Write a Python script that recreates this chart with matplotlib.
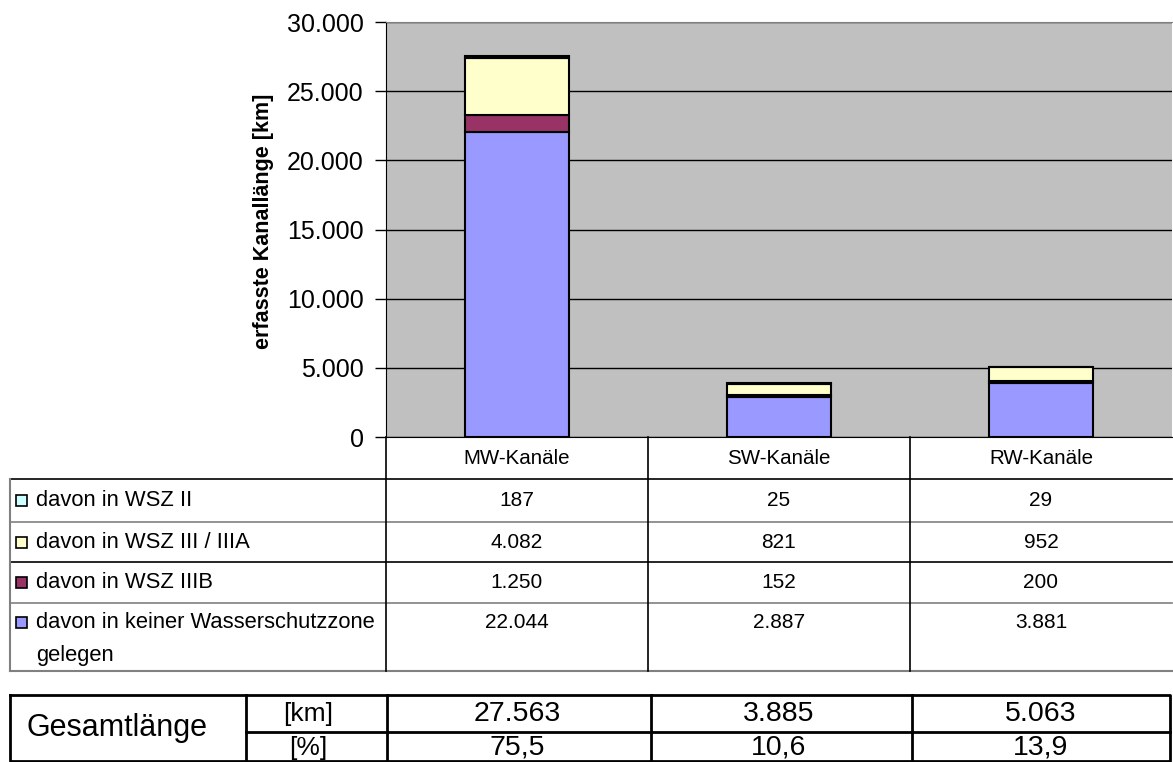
import matplotlib
matplotlib.use("Agg")
import matplotlib.pyplot as plt
from matplotlib.patches import Rectangle
from matplotlib.transforms import blended_transform_factory

plt.rcParams['font.family'] = ['Liberation Sans', 'DejaVu Sans']

# ---- data ----
categories = ["MW-Kanäle", "SW-Kanäle", "RW-Kanäle"]
series_labels = ["davon in keiner Wasserschutzzone\ngelegen", "davon in WSZ IIIB",
                 "davon in WSZ III / IIIA", "davon in WSZ II"]
keiner = [22044, 2887, 3881]
wsz_iiib = [1250, 152, 200]
wsz_iii_iiia = [4082, 821, 952]
wsz_ii = [187, 25, 29]
series_colors = ["#9999FF", "#993366", "#FFFFCC", "#CCFFFF"]
total_km = ["27.563", "3.885", "5.063"]
total_pct = ["75,5", "10,6", "13,9"]
yticks = [0, 5000, 10000, 15000, 20000, 25000, 30000]
ytick_labels = ["0", "5.000", "10.000", "15.000", "20.000", "25.000", "30.000"]
ylabel = "erfasste Kanallänge [km]"
total_label = "Gesamtlänge"
unit_labels = ["[km]", "[%]"]

series = [keiner, wsz_iiib, wsz_iii_iiia, wsz_ii]

def fmt(v):
    return f"{v:,}".replace(",", ".")

W, H = 1173, 762
fig = plt.figure(figsize=(W / 100, H / 100), dpi=100)

# main axes in pixel positions
L, R, T, B = 386, 1172, 22, 437
ax = fig.add_axes([L / W, 1 - B / H, (R - L) / W, (B - T) / H])
ax.set_facecolor("#C0C0C0")
ax.set_xlim(-0.5, 2.5)
ax.set_ylim(0, 30000)

x = list(range(len(categories)))
bottom = [0, 0, 0]
for vals, col in zip(series, series_colors):
    ax.bar(x, vals, width=0.4, bottom=bottom, color=col, edgecolor="black",
           linewidth=1.5, zorder=3)
    bottom = [b + v for b, v in zip(bottom, vals)]

ax.set_yticks(yticks)
ax.set_yticklabels(ytick_labels, fontsize=18)
ax.set_xticks([])
ax.yaxis.grid(True, color="black", linewidth=1)
ax.set_axisbelow(True)
ax.tick_params(axis="y", length=8, width=1, pad=8, color="black")
ax.spines["right"].set_visible(False)
ax.spines["top"].set_color("#808080")
ax.spines["left"].set_color("black")
ax.spines["bottom"].set_color("black")
ax.set_ylabel(ylabel, fontsize=15.5, fontweight="bold")
ax.yaxis.set_label_coords(-0.143, 0.52)

# overlay for table
ov = fig.add_axes([0, 0, 1, 1], zorder=5)
ov.set_xlim(0, W)
ov.set_ylim(H, 0)
ov.axis("off")
ov.patch.set_alpha(0)
tr = blended_transform_factory(ax.transData, ov.transData)

blk, gry = "black", "#808080"
# data table grid
ov.plot([10, 1172], [479, 479], color=blk, lw=1.2)
ov.plot([10, 1172], [522, 522], color=gry, lw=1.2)
ov.plot([10, 1172], [562, 562], color=blk, lw=1.2)
ov.plot([10, 1172], [603, 603], color=gry, lw=1.2)
ov.plot([10, 1172], [671, 671], color=gry, lw=1.5)
ov.plot([10, 10], [479, 671], color=gry, lw=1.5)
for xv in [386, 648, 910]:
    ov.plot([xv, xv], [437, 671], color=blk, lw=1.2)

# header
for i, c in enumerate(categories):
    ov.text(i, 458, c, transform=tr, ha="center", va="center", fontsize=14.8)

# rows (top to bottom: WSZ II, III/IIIA, IIIB, keiner)
row_centers = [500.5, 542, 582.5, 622]
order = [3, 2, 1, 0]
for rc, si in zip(row_centers, order):
    ov.add_patch(Rectangle((16, rc - 5.5), 11, 11, facecolor=series_colors[si],
                           edgecolor="black", lw=1.2))
    lines = series_labels[si].split("\n")
    for k, ln in enumerate(lines):
        ov.text(36, rc + 33 * k, ln, ha="left", va="center", fontsize=15.8)
    for i, v in enumerate(series[si]):
        ov.text(i, rc, fmt(v), transform=tr, ha="center", va="center", fontsize=15)

# bottom summary table
lw2 = 2.0
ov.plot([10, 1170, 1170, 10, 10], [695, 695, 761, 761, 695], color=blk, lw=lw2)
for xv in [246, 387, 651, 912]:
    ov.plot([xv, xv], [695, 761], color=blk, lw=lw2)
ov.plot([246, 1170], [732, 732], color=blk, lw=lw2)
ov.text(117, 728, total_label, ha="center", va="center", fontsize=22)
ov.text(308, 714, unit_labels[0], ha="center", va="center", fontsize=19)
ov.text(308, 748, unit_labels[1], ha="center", va="center", fontsize=19)
for i in range(3):
    ov.text(i, 714, total_km[i], transform=tr, ha="center", va="center", fontsize=20.5)
    ov.text(i, 748, total_pct[i], transform=tr, ha="center", va="center", fontsize=20.5)

fig.savefig("out.png", dpi=100)
